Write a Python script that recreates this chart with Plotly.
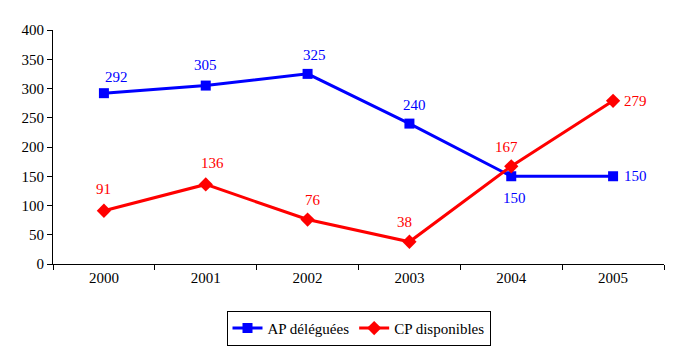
import plotly.graph_objects as go

years = ["2000", "2001", "2002", "2003", "2004", "2005"]
ap = [292, 305, 325, 240, 150, 150]
cp = [91, 136, 76, 38, 167, 279]
# label offsets (pixels) relative to each point
ap_dx = [13, 0, 7, 5, 3, 22]
ap_dy = [16, 21, 19, 19, -22, 0]
cp_dx = [0, 7, 5, -5, -5, 22]
cp_dy = [22, 21, 20, 20, 19, 0]

font = "Times New Roman, Liberation Serif, DejaVu Serif, serif"
BLUE = "#0000FF"
RED = "#FF0000"

fig = go.Figure()
fig.add_trace(go.Scatter(
    x=years, y=ap, name="AP déléguées", mode="lines+markers",
    line=dict(color=BLUE, width=3),
    marker=dict(symbol="square", size=10, color=BLUE),
))
fig.add_trace(go.Scatter(
    x=years, y=cp, name="CP disponibles", mode="lines+markers",
    line=dict(color=RED, width=3),
    marker=dict(symbol="diamond", size=11, color=RED),
))

for vals, dxs, dys, col in [(ap, ap_dx, ap_dy, BLUE), (cp, cp_dx, cp_dy, RED)]:
    for i, (v, dx, dy) in enumerate(zip(vals, dxs, dys)):
        fig.add_annotation(x=i, y=v, xref="x", yref="y", text=str(v), showarrow=False,
                           xshift=dx, yshift=dy,
                           font=dict(color=col, size=15, family=font))

fig.update_layout(
    width=679, height=347,
    margin=dict(l=53, r=15, t=30, b=83, autoexpand=False),
    paper_bgcolor="white", plot_bgcolor="white",
    font=dict(family=font, size=15, color="black"),
    showlegend=True,
    legend=dict(orientation="h", x=0.5, xanchor="center", y=-0.2, yanchor="top",
                bordercolor="black", borderwidth=1, font=dict(size=15, family=font),
                itemwidth=30, tracegroupgap=0),
    xaxis=dict(type="category", showline=True, linecolor="black", linewidth=1,
               ticks="outside", tickson="boundaries", ticklen=5, tickcolor="black",
               showgrid=False, range=[-0.5, 5.5], automargin=False),
    yaxis=dict(range=[0, 400], dtick=50, showline=True, linecolor="black", linewidth=1,
               ticks="outside", ticklen=5, tickcolor="black", showgrid=False,
               zeroline=False, automargin=False),
)

fig.write_html("out.html")
